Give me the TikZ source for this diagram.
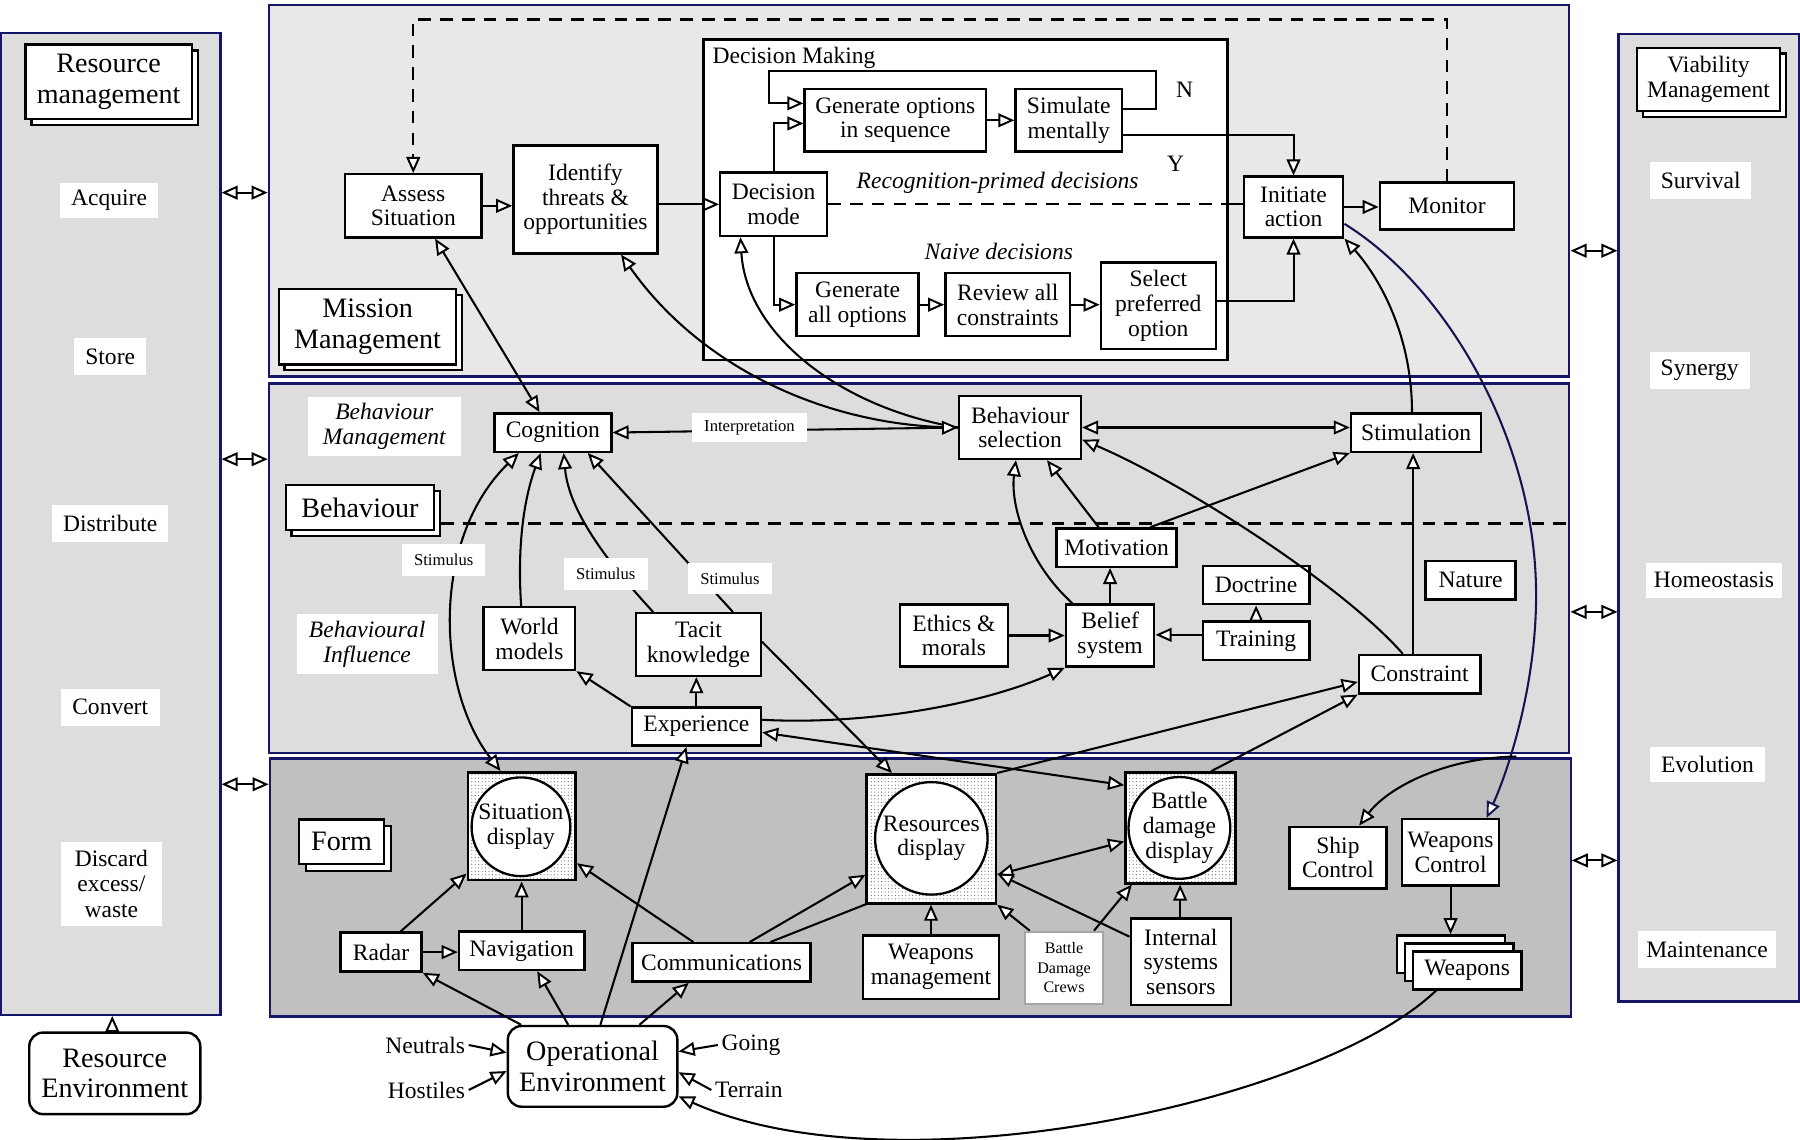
\documentclass[tikz,border=0pt]{standalone}
\usepackage{fontspec}
\setmainfont{Liberation Serif}
\usetikzlibrary{arrows.meta,patterns}
\definecolor{navy}{RGB}{22,22,105}
\definecolor{navyc}{RGB}{20,20,80}
\definecolor{pmis}{RGB}{232,232,232}
\definecolor{pbeh}{RGB}{221,221,221}
\definecolor{pform}{RGB}{192,192,192}
\definecolor{side}{RGB}{221,221,221}
\tikzset{
  fn/.style={font=\fontsize{20.5}{21.5}\selectfont},
  fit/.style={font=\fontsize{20.5}{21.5}\selectfont\itshape},
  fbig/.style={font=\fontsize{24.5}{26.5}\selectfont},
  fcol/.style={font=\fontsize{20.5}{22}\selectfont},
  fsm/.style={font=\fontsize{14.5}{16}\selectfont},
  wh/.style 2 args={minimum width=#1pt, minimum height=#2pt},
  box/.style={draw, line width=2.1pt, fill=white, align=center, inner sep=0pt, fn},
  lbl/.style={fill=white, align=center, inner sep=0pt, fn},
  txt/.style={align=center, inner sep=0pt, fn},
  panel/.style={draw=navy, line width=2pt, inner sep=0pt},
  disp/.style={draw, line width=2.2pt, inner sep=0pt, preaction={fill=white}, pattern=dots, pattern color=black!60},
  disc/.style={circle, draw, fill=white, line width=2pt, inner sep=0pt, align=center, fn},
  con/.style={line width=1.8pt},
  arr/.style={con, -{Triangle[length=14pt,width=12pt,fill=white,line width=1.7pt]}},
  arrb/.style={con, {Triangle[length=14pt,width=12pt,fill=white,line width=1.7pt]}-{Triangle[length=14pt,width=12pt,fill=white,line width=1.7pt]}},
  dsh/.style={line width=1.8pt, dash pattern=on 11pt off 8pt},
}
\begin{document}
\begin{tikzpicture}[x=1pt,y=-1pt]
\useasboundingbox (0,0) rectangle (1568,993);

% ---------- panels ----------
\node[panel, fill=side, wh={191}{855}] (rm) at (96.5,456.5) {};
\node[panel, fill=side, wh={157}{843}] (vm) at (1488.5,450.9) {};
\node[panel, fill=pmis, wh={1132.9}{323.6}] (mp) at (800.6,166.2) {};
\node[panel, fill=pbeh, wh={1132.8}{322.2}] (bp) at (800.6,495.1) {};
\node[panel, fill=pform, wh={1133.2}{225}] (fp) at (801.6,773.1) {};

% ---------- left column ----------
\node[box, wh={145}{65}] (rmtb) at (100.1,76.6) {};
\node[box, fbig, wh={145}{65}] (rmt) at (94.6,71.1) {Resource\\management};
\node[lbl, fcol, wh={86}{31}] (acq) at (95,174.5) {Acquire};
\node[lbl, fcol, wh={63}{32}] (store) at (96,310.7) {Store};
\node[lbl, fcol, wh={101}{32}] (distr) at (96,456) {Distribute};
\node[lbl, fcol, wh={86}{32}] (conv) at (96,616) {Convert};
\node[lbl, fcol, wh={88}{73}] (disca) at (97,770) {Discard\\excess/\\waste};
\node[box, fbig, rounded corners=12pt, wh={149}{71}] (re) at (100,935) {Resource\\Environment};

% ---------- right column ----------
\node[box, wh={124.6}{55}] (vmtb) at (1493.3,74.2) {};
\node[box, fcol, wh={124.6}{55}] (vmt) at (1488.3,69.2) {Viability\\Management};
\node[lbl, fcol, wh={88}{32}] (surv) at (1481.5,157) {Survival};
\node[lbl, fcol, wh={87}{32}] (syn) at (1480.6,322.5) {Synergy};
\node[lbl, fcol, wh={118}{31}] (homeo) at (1493,505.5) {Homeostasis};
\node[lbl, fcol, wh={100}{31}] (evo) at (1487.4,666) {Evolution};
\node[lbl, fcol, wh={121}{32}] (maint) at (1487,827) {Maintenance};

% ---------- mission management ----------
\node[draw, line width=2.1pt, fill=white, inner sep=0pt, wh={456.5}{279.3}] (dmbox) at (841.05,173.95) {};
\node[box, wh={118.6}{55}] (assess) at (360,179.3) {Assess\\Situation};
\node[box, wh={125.6}{93.8}] (ident) at (510,173.8) {Identify\\threats \&\\opportunities};
\node[box, wh={154.4}{65.4}] (mmtb) at (325.2,289.7) {};
\node[box, fbig, wh={154.4}{65.4}] (mmt) at (320.2,284.7) {Mission\\Management};
\node[txt, anchor=base west] (dmlab) at (620.6,55) {Decision Making};
\node[box, wh={93}{55.2}] (dm) at (673.9,178) {Decision\\mode};
\node[box, wh={158}{54.5}] (gen) at (779.9,104.8) {Generate options\\in sequence};
\node[box, wh={92.6}{54.6}] (sim) at (931,104.8) {Simulate\\mentally};
\node[txt] (nlab) at (1032,78.4) {N};
\node[txt] (ylab) at (1024,142.3) {Y};
\node[txt, fit] (rpd) at (869,159.7) {Recognition-primed decisions};
\node[txt, fit] (naive) at (870,219.2) {Naive decisions};
\node[box, wh={86.6}{52.9}] (init) at (1126.8,180.3) {Initiate\\action};
\node[box, wh={117}{41}] (mon) at (1260.5,179.5) {Monitor};
\node[box, wh={106.4}{54.7}] (genall) at (747,265.4) {Generate\\all options};
\node[box, wh={108.7}{54.7}] (rev) at (877.9,265.4) {Review all\\constraints};
\node[box, wh={100}{75.5}] (sel) at (1009,266.3) {Select\\preferred\\option};

% ---------- behaviour ----------
\node[box, wh={129.2}{39.2}] (behtb) at (318.6,447.1) {};
\draw[dsh] (behtb.east |- 0,456) -- (bp.east |- 0,456);
\node[box, fbig, wh={129.2}{39.2}] (beht) at (313.6,442.1) {Behaviour};
\node[lbl, fit, wh={133.5}{51.7}] (bman) at (334.8,371.4) {Behaviour\\Management};
\node[lbl, fit, wh={123}{52.6}] (binf) at (319.8,561.1) {Behavioural\\Influence};
\node[box, wh={101.8}{33.5}] (cog) at (481.6,376.8) {Cognition};
\node[box, wh={79.7}{54.6}] (wm) at (461.2,556.3) {World\\models};
\node[box, wh={108.5}{54.6}] (tacit) at (608.5,561.5) {Tacit\\knowledge};
\node[box, wh={112.4}{33.1}] (exp) at (606.6,633) {Experience};
\node[box, wh={106}{54.8}] (bs) at (888.6,372.4) {Behaviour\\selection};
\node[box, wh={104.5}{33.4}] (mot) at (972.7,477) {Motivation};
\node[box, wh={77}{54.3}] (bel) at (967,553.6) {Belief\\system};
\node[box, wh={93.8}{54.3}] (eth) at (831,553.6) {Ethics \&\\morals};
\node[box, wh={93}{33.4}] (doc) at (1094.2,509.7) {Doctrine};
\node[box, wh={93}{33.5}] (train) at (1094.2,558.2) {Training};
\node[box, wh={78.4}{33.4}] (nat) at (1281,505.4) {Nature};
\node[box, wh={105.8}{33.4}] (cons) at (1236.7,587.3) {Constraint};
\node[box, wh={113.4}{33.5}] (stim) at (1233.6,376.8) {Stimulation};

% ---------- form ----------
\node[box, wh={74}{39}] (formtb) at (303.6,739.2) {};
\node[box, fbig, wh={74}{39}] (formt) at (297.6,733.2) {Form};
\node[box, wh={155.4}{33.4}] (comm) at (628.5,838.4) {Communications};
\draw[con] (comm.north -| 671,0) -- (756,787);
\node[disp, wh={94}{94}] (sd) at (454.5,719.7) {};
\node[disc, minimum size=86pt] (sdc) at (453.8,720.2) {Situation\\display};
\node[disp, wh={112.6}{112.5}] (rd) at (811.3,730.7) {};
\node[disc, minimum size=98pt] (rdc) at (811.3,730.3) {Resources\\display};
\node[disp, wh={96}{96.5}] (bdd) at (1028.4,721.2) {};
\node[disc, minimum size=86pt] (bddc) at (1027.4,721.2) {Battle\\damage\\display};
\node[box, wh={70.7}{34}] (radar) at (331.9,829.4) {Radar};
\node[box, wh={109.2}{33.4}] (nav) at (454.4,828.3) {Navigation};
\node[box, wh={118}{55}] (wmg) at (811,842.5) {Weapons\\management};
\node[draw=black!35, line width=1.8pt, fill=white, align=center, inner sep=0pt, font=\fontsize{14}{17}\selectfont, wh={68}{63}] (bdc) at (926.9,843.1) {Battle\\Damage\\Crews};
\node[box, wh={87.1}{75.4}] (iss) at (1028.6,837.7) {Internal\\systems\\sensors};
\node[box, wh={84.7}{53.7}] (ship) at (1165.5,747) {Ship\\Control};
\node[box, wh={84.4}{58}] (wctrl) at (1263.6,742.5) {Weapons\\Control};
\node[box, wh={94.5}{33}] (wpn3) at (1264,831.3) {};
\node[box, wh={94.5}{33}] (wpn2) at (1271,838.3) {};
\node[box, wh={94.5}{33}] (wpn) at (1278,845.3) {Weapons};
\node[box, fbig, rounded corners=12pt, wh={147.7}{70.3}] (oe) at (516.2,928.9) {Operational\\Environment};
\node[txt, inner sep=3pt] (neut) at (370.4,910.3) {Neutrals};
\node[txt, inner sep=3pt] (host) at (371.5,949.5) {Hostiles};
\node[txt, inner sep=3pt] (going) at (654.2,910.3) {Going};
\node[txt, inner sep=3pt] (terr) at (652.3,949.5) {Terrain};
\coordinate (scsrc) at (1321,659);

% ---------- side connectors ----------
\draw[arrb] (rm.east |- 0,167.8) -- (mp.west |- 0,167.8);
\draw[arrb] (rm.east |- 0,400) -- (bp.west |- 0,400);
\draw[arrb] (rm.east |- 0,683.2) -- (fp.west |- 0,683.2);
\draw[arrb] (mp.east |- 0,218.4) -- (vm.west |- 0,218.4);
\draw[arrb] (bp.east |- 0,533) -- (vm.west |- 0,533);
\draw[arrb] (fp.east |- 0,749.5) -- (vm.west |- 0,749.5);
\draw[arr] (re.north -| 97.8,0) -- (rm.south -| 97.8,0);

% ---------- mission connectors ----------
\draw[dsh, -{Triangle[length=14pt,width=12pt,fill=white,line width=1.7pt]}] (mon.north) |- (assess.north |- 0,17) -- (assess.north);
\draw[arr] (assess.east) -- (assess.east -| ident.west);
\draw[arr] (ident.east |- dm.west) -- (dm.west);
\draw[arr] (dm.north) |- (gen.west |- 0,107.5);
\draw[arr] (gen.east) -- (sim.west);
\draw[arr] (sim.east |- 0,95) -| (1007,62) -| (670,90) -- (gen.west |- 0,90);
\draw[arr] (sim.east |- 0,118) -| (init.north);
\draw[dsh] (dm.east) -- (dmbox.east |- dm.east);
\draw[con] (dmbox.east |- dm.east) -- (init.west |- dm.east);
\draw[arr] (dm.south) |- (genall.west);
\draw[arr] (genall.east) -- (rev.west);
\draw[arr] (rev.east) -- (sel.west |- rev.east);
\draw[arr] (sel.east |- 0,262) -| (init.south);
\draw[arr] (init.east) -- (init.east -| mon.west);

% ---------- behaviour connectors ----------
\draw[arrb] (assess.south -| 379,0) -- (cog.north -| 470,0);
\draw[arr] (bs.west) .. controls (720,372) and (610,320) .. (ident.south -| 541,0);
\draw[arr] (bs.west) .. controls (730,355) and (650,290) .. (dm.south -| 645,0);
\draw[arrb] (cog.east) -- (bs.west);
\draw[arrb] (bs.east) -- (stim.west |- bs.east);
\draw[arr] (stim.north -| 1230,0) .. controls (1230,290) and (1200,240) .. (init.south east);
\draw[arr, draw=navyc] (init.east |- 0,195) .. controls (1260,250) and (1335,380) .. (1338,510) .. controls (1340,600) and (1310,680) .. (wctrl.north -| 1295,0);
\draw[arr] (cons.north -| 1222,0) .. controls (1170,510) and (1030,420) .. (bs.east |- 0,383);
\draw[arr] (cons.north -| 1231,0) -- (stim.south -| 1231,0);
\draw[arr] (mot.north -| 957,0) -- (bs.south -| 912,0);
\draw[arr] (mot.north -| 1002,0) -- (stim.south west);
\draw[arr] (bel.north -| 934,0) .. controls (895,490) and (880,440) .. (bs.south -| 885,0);
\draw[arr] (bel.north) -- (bel.north |- mot.south);
\draw[arr] (eth.east) -- (bel.west);
\draw[arr] (train.west |- 0,553) -- (bel.east |- 0,553);
\draw[arr] (train.north) -- (doc.south);
\draw[arr] (exp.north west) -- (wm.south east);
\draw[arr] (exp.north) -- (exp.north |- tacit.south);
\draw[arr] (exp.east |- 0,627) .. controls (760,632) and (860,612) .. (bel.south west);
\draw[arrb] (bdd.west |- 0,684) -- (exp.east |- 0,638);
\draw[arr] (tacit.east |- 0,559) -- (rd.north -| 777,0);
\draw[arr] (tacit.north -| 638.5,0) -- (cog.south -| 512,0);
\draw[arr] (tacit.north -| 569,0) .. controls (520,480) and (495,440) .. (cog.south -| 491,0);
\draw[arr] (wm.north -| 454,0) .. controls (450,470) and (458,430) .. (cog.south -| 471,0);
\draw[arrb] (sd.north -| 436,0) .. controls (380,600) and (375,470) .. (cog.south -| 452,0);
\draw[arr] (rd.north east) -- (cons.west |- 0,594);
\draw[arr] (bdd.north -| 1055,0) -- (cons.south west);

% ---------- form connectors ----------
\draw[arr] (comm.north -| 653,0) -- (rd.west |- 0,762);
\draw[arr] (comm.north -| 604,0) -- (sd.east |- 0,752);
\draw[arr] (radar.north -| 349,0) -- (sd.west |- 0,761);
\draw[arr] (radar.east) -- (nav.west |- radar.east);
\draw[arr] (nav.north) -- (nav.north |- sd.south);
\draw[arr] (wmg.north) -- (wmg.north |- rd.south);
\draw[arrb] (rd.east |- 0,762) -- (bdd.west |- 0,733);
\draw[arr] (iss.west |- 0,816) -- (rd.east |- 0,761);
\draw[arr] (bdc.north -| 897,0) -- (rd.south east);
\draw[arr] (bdc.north -| 953,0) -- (bdd.south -| 986,0);
\draw[arr] (iss.north -| 1028,0) -- (bdd.south -| 1028,0);
\draw[arr] (scsrc) .. controls (1260,660) and (1210,685) .. (ship.north -| 1184,0);
\draw[arr] (wctrl.south) -- (wctrl.south |- wpn3.north);
\draw[arr] (oe.north -| 454,0) -- (radar.south east);
\draw[arr] (oe.north -| 495,0) -- (nav.south -| 468,0);
\draw[arr] (oe.north -| 523,0) -- (exp.south -| 598,0);
\draw[arr] (oe.north -| 557,0) -- (comm.south -| 600,0);
\draw[arr] (neut.east) -- (oe.west |- 0,917);
\draw[arr] (host.east) -- (oe.west |- 0,933);
\draw[arr] (going.west) -- (oe.east |- 0,916);
\draw[arr] (terr.west) -- (oe.east |- 0,934);
\draw[arr] (wpn.south -| 1251,0) .. controls (1150,960) and (780,1040) .. (oe.east |- 0,955);

% ---------- labels on connectors ----------
\node[lbl, fsm, wh={100}{24.7}] (interp) at (652.9,372.4) {Interpretation};
\node[lbl, fsm, wh={72.6}{27.6}] (stim1) at (386.5,487.7) {Stimulus};
\node[lbl, fsm, wh={72.7}{27.7}] (stim2) at (527.7,500.2) {Stimulus};
\node[lbl, fsm, wh={73.5}{27.3}] (stim3) at (635.8,504) {Stimulus};
\end{tikzpicture}
\end{document}
